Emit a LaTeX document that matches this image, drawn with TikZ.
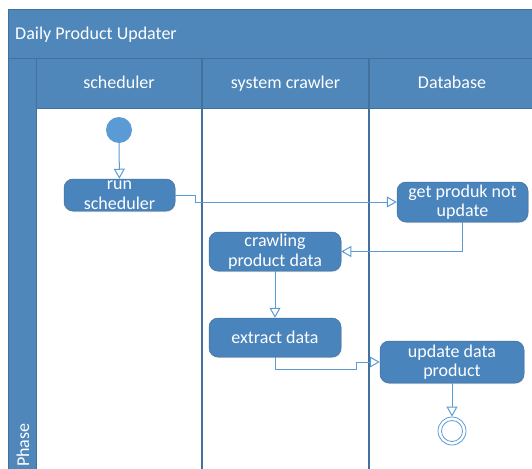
\documentclass[tikz,border=0pt]{standalone}
\usepackage{fontspec}
\setmainfont{Carlito}
\usetikzlibrary{arrows.meta,shadows}
\definecolor{hdr}{HTML}{4F87BB}
\definecolor{hdrline}{HTML}{41719C}
\definecolor{act}{HTML}{4A84BC}
\definecolor{actline}{HTML}{41719C}
\definecolor{flow}{HTML}{5B9BD5}
\tikzset{
  lbl/.style={text=white,font=\fontsize{18}{20}\selectfont,inner sep=0pt,text height=12.5pt,text depth=4pt},
  action/.style={rectangle,rounded corners=9pt,fill=act,draw=actline,line width=0.5pt,
    text=white,font=\fontsize{18}{19.5}\selectfont,align=center,inner sep=0pt,
    drop shadow={shadow xshift=0.6pt,shadow yshift=-1pt,opacity=0.25}},
  flowline/.style={draw=flow,line width=1pt,-{Triangle[open,length=10pt,width=11pt]}},
}
\begin{document}
\begin{tikzpicture}[x=1pt,y=-1pt]
\useasboundingbox (0,0) rectangle (532,468);
% frame
\fill[hdr] (8,9) rectangle (534,470);
\draw[hdrline,line width=0.6pt] (8,9) -- (534,9) (8,9) -- (8,470);
\draw[hdrline,line width=0.6pt] (8,58) -- (534,58);
% lane bodies
\fill[white] (37,108) rectangle (534,470);
\draw[hdrline,line width=0.6pt] (36,58) -- (36,470);
\draw[hdrline,line width=0.6pt] (36,108) -- (534,108);
\draw[hdrline,line width=1.2pt] (202,58) -- (202,470);
\draw[hdrline,line width=1.2pt] (369,58) -- (369,470);
% texts
\node[lbl,anchor=west] (title) at (15,35) {Daily Product Updater};
\node[lbl] (h1) at (119,84.5) {scheduler};
\node[lbl] (h2) at (285.5,84.5) {system crawler};
\node[lbl] (h3) at (452,84.5) {Database};
\node[lbl,anchor=base west,rotate=90,text height=,text depth=] (phase) at (29,467) {Phase};
% nodes
\node[circle,fill=flow,minimum size=26pt,inner sep=0pt] (start) at (119,130) {};
\node[action,minimum width=111pt,minimum height=32pt] (run) at (119.5,195) {run\\scheduler};
\node[action,minimum width=131pt,minimum height=40pt] (get) at (462.5,202) {get produk not\\update};
\node[action,minimum width=132pt,minimum height=39pt] (crawl) at (275,251.5) {crawling\\product data};
\node[action,minimum width=132pt,minimum height=39pt] (extract) at (275,337.5) {extract data};
\node[action,minimum width=144pt,minimum height=42pt] (upd) at (452,362) {update data\\product};
\node[circle,draw=flow,line width=0.8pt,fill=white,minimum size=28pt,inner sep=0pt] (end) at (452,431) {};
\draw[flow,line width=0.8pt] (end) circle (10.5pt);
% connectors
\coordinate (c1) at (195,195);
\coordinate (c2) at (195,202);
\coordinate (c3) at (275,369);
\coordinate (c4) at (356,369);
\coordinate (c5) at (356,362);
\draw[flowline] (start) -- (run);
\draw[flowline] (run.east) -- (c1) -- (c2) -- (get.west);
\draw[flowline] (get.south) |- (crawl.east);
\draw[flowline] (crawl) -- (extract);
\draw[flowline] (extract.south) -- (c3) -- (c4) -- (c5) -- (upd.west);
\draw[flowline] (upd) -- (end);
\end{tikzpicture}
\end{document}
